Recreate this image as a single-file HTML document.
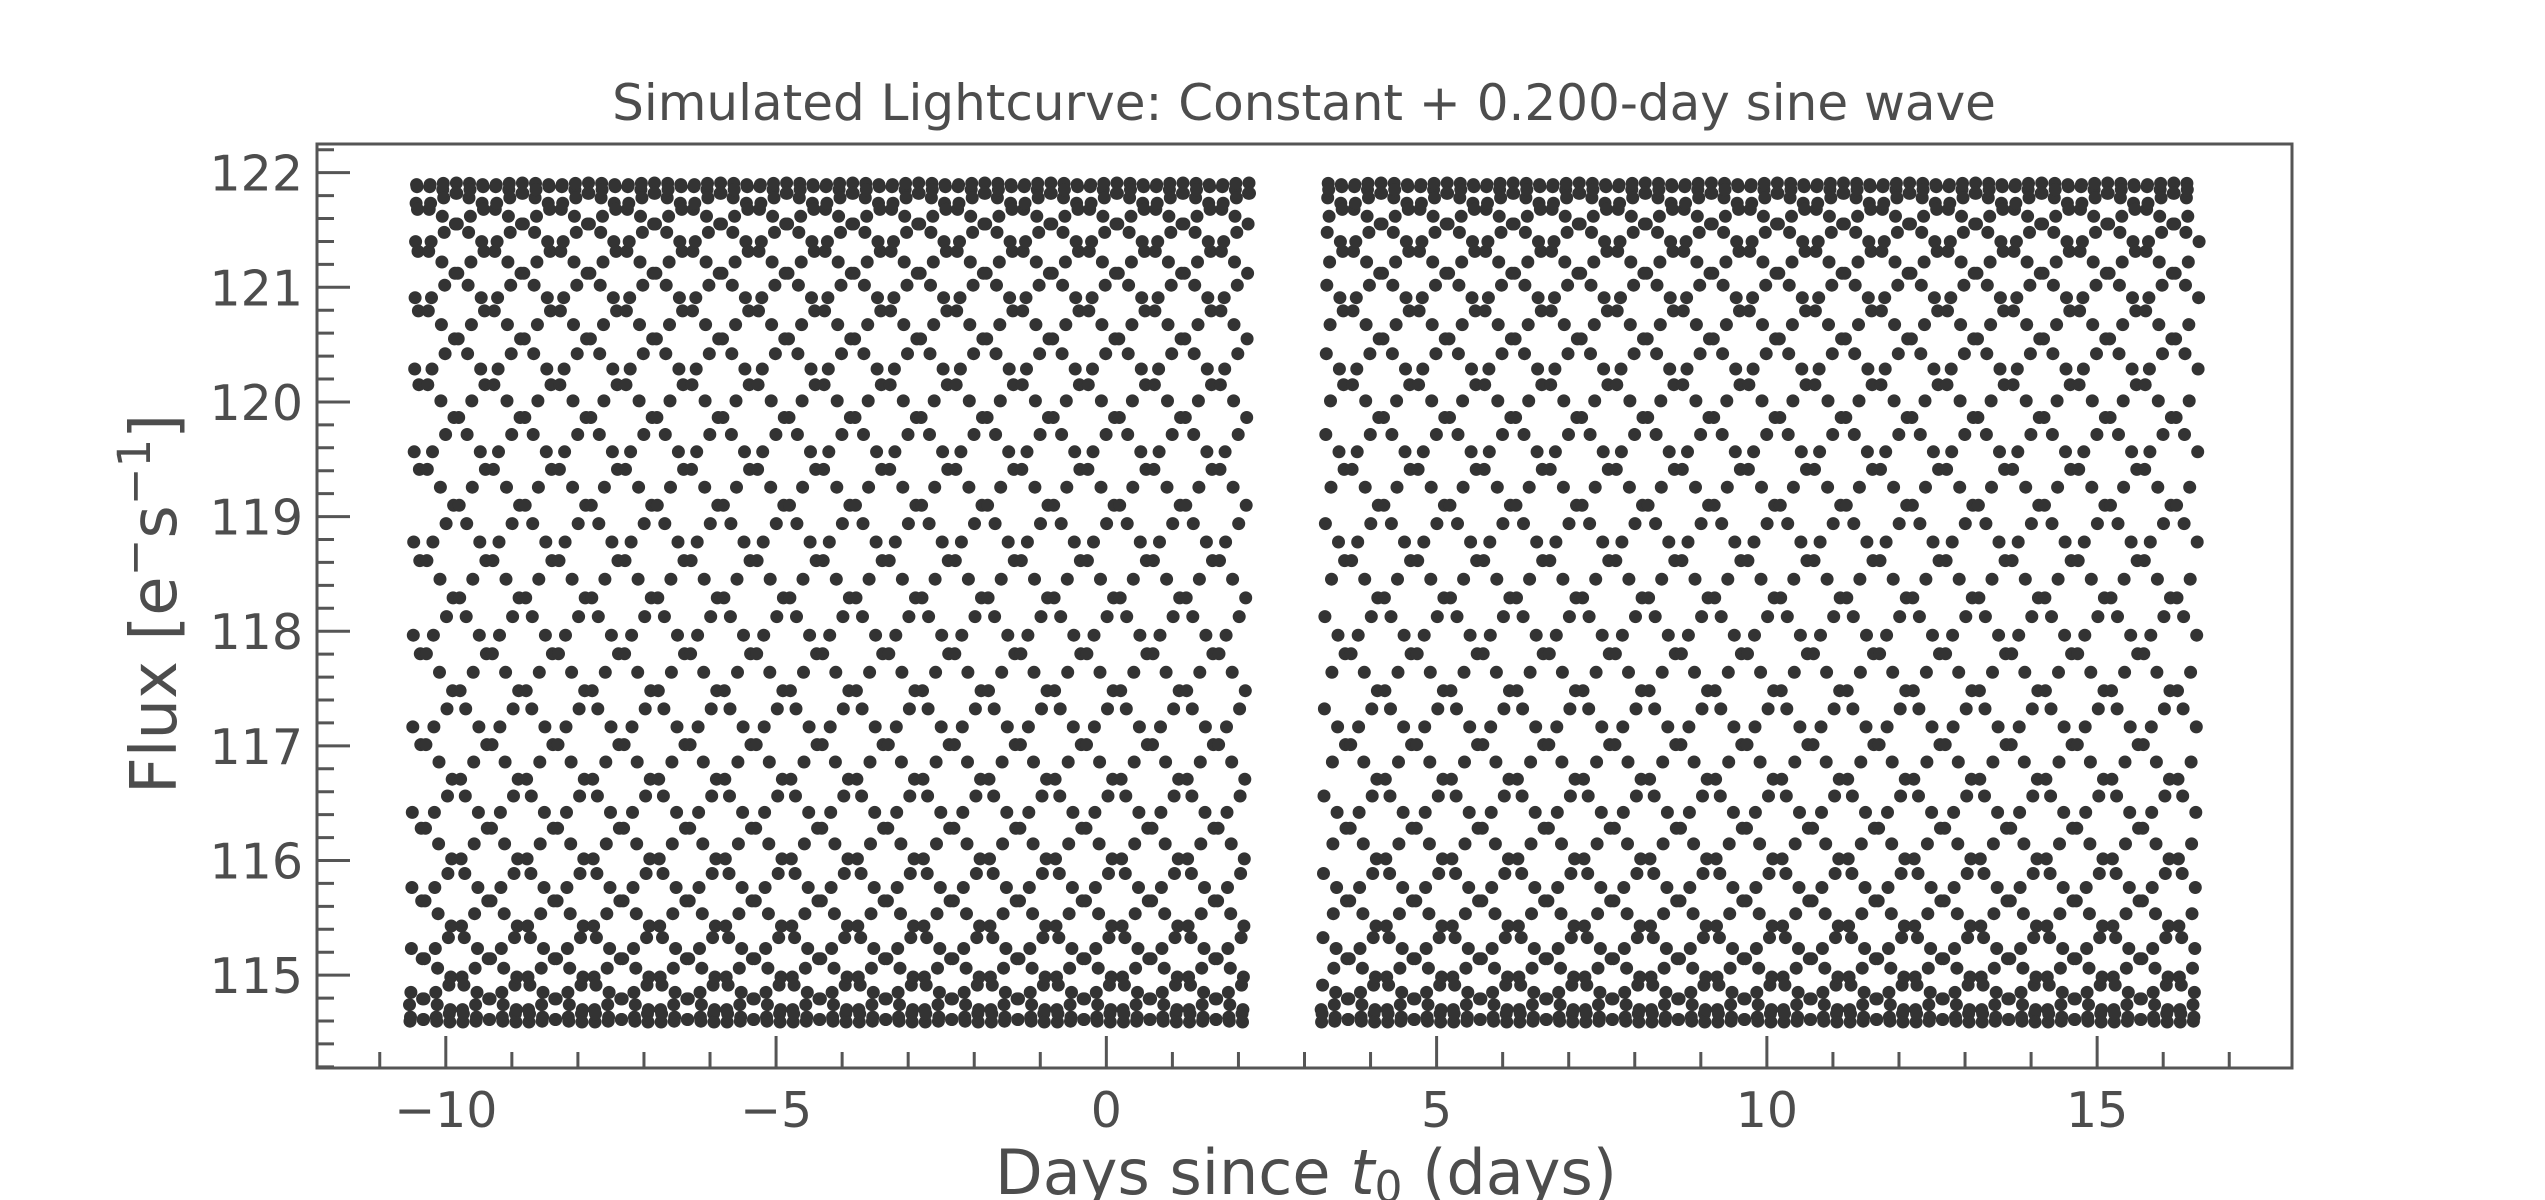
<!DOCTYPE html>
<html>
<head>
<meta charset="utf-8">
<style>
  html, body { margin: 0; padding: 0; background: #ffffff; }
  svg { display: block; }
  text { font-family: "DejaVu Sans", "Liberation Sans", sans-serif; fill: #4d4d4d; }
</style>
</head>
<body>
<svg id="chart" width="2545" height="1200" viewBox="0 0 2545 1200" xmlns="http://www.w3.org/2000/svg">
  <rect x="0" y="0" width="2545" height="1200" fill="#ffffff"/>
  <text x="1304" y="120" font-size="50" text-anchor="middle">Simulated Lightcurve: Constant + 0.200-day sine wave</text>
  <g id="points"></g>
  <g id="axes"></g>
  <text transform="translate(176,604) rotate(-90)" font-size="64" text-anchor="middle">Flux [e<tspan font-size="45" baseline-shift="super">−</tspan>s<tspan font-size="45" baseline-shift="super">−1</tspan>]</text>
  <text x="1306" y="1194" font-size="62" text-anchor="middle">Days since <tspan font-style="italic">t</tspan><tspan font-size="44" dy="8">0</tspan><tspan dy="-8"> (days)</tspan></text>
</svg>
<script>
// ---- chart data ----
const segmentStarts = [-10.55, 3.25];     // days
const segmentEnds   = [2.17, 16.55];      // days
const samplesPerDay = [141];              // ~10-min cadence
const peakEpoch = [6.16];                 // time of a sample near sine maximum (days)
const phaseOffsetDeg = [0.0];             // sample offset from exact maximum
const sinePeriod = [0.200];               // days
const fluxMean = [118.25];
const fluxAmplitude = [3.66];
const xTickValues = [-10, -5, 0, 5, 10, 15];
const xTickLabels = ["−10", "−5", "0", "5", "10", "15"];
const yTickValues = [115, 116, 117, 118, 119, 120, 121, 122];
const yTickLabels = ["115", "116", "117", "118", "119", "120", "121", "122"];

// ---- layout ----
const L = 317, R = 2292, T = 144, B = 1068;
const xMin = -11.95, xMax = 17.95;
const yMin = 114.19, yMax = 122.25;
const NS = "http://www.w3.org/2000/svg";
function xScale(v) { return L + (v - xMin) / (xMax - xMin) * (R - L); }
function yScale(v) { return B - (v - yMin) / (yMax - yMin) * (B - T); }

// ---- points ----
const pg = document.getElementById('points');
for (let s = 0; s < segmentStarts.length; s++) {
  const k0 = Math.ceil((segmentStarts[s] - peakEpoch[0]) * samplesPerDay[0]);
  const k1 = Math.floor((segmentEnds[s] - peakEpoch[0]) * samplesPerDay[0]);
  for (let k = k0; k <= k1; k++) {
    const dtk = k / samplesPerDay[0];
    const t = peakEpoch[0] + dtk;
    const f = fluxMean[0] + fluxAmplitude[0] * Math.cos(2 * Math.PI * dtk / sinePeriod[0] + phaseOffsetDeg[0] * Math.PI / 180);
    const c = document.createElementNS(NS, 'circle');
    
    
    c.setAttribute('cx', xScale(t).toFixed(1));
    c.setAttribute('cy', yScale(f).toFixed(1));
    c.setAttribute('r', '6.5');
    c.setAttribute('fill', '#333333');
    pg.appendChild(c);
  }
}

// ---- axes ----
const ag = document.getElementById('axes');
function line(x1, y1, x2, y2, name) {
  const l = document.createElementNS(NS, 'line');
  
  
  l.setAttribute('x1', x1); l.setAttribute('y1', y1);
  l.setAttribute('x2', x2); l.setAttribute('y2', y2);
  l.setAttribute('stroke', '#555555');
  l.setAttribute('stroke-width', '3');
  ag.appendChild(l);
}
function label(x, y, str, anchor, name) {
  const tx = document.createElementNS(NS, 'text');
  
  
  tx.setAttribute('x', x); tx.setAttribute('y', y);
  tx.setAttribute('font-size', '49');
  tx.setAttribute('text-anchor', anchor);
  tx.textContent = str;
  ag.appendChild(tx);
}
const fr = document.createElementNS(NS, 'rect');


fr.setAttribute('x', L); fr.setAttribute('y', T);
fr.setAttribute('width', R - L); fr.setAttribute('height', B - T);
fr.setAttribute('fill', 'none'); fr.setAttribute('stroke', '#555555'); fr.setAttribute('stroke-width', '3');
ag.appendChild(fr);
for (let v = Math.ceil(xMin); v <= xMax; v++) {
  if (v % 5 === 0) continue;
  line(xScale(v), B, xScale(v), B - 16, 'x-minor-tick');
}
xTickValues.forEach((v, i) => {
  line(xScale(v), B, xScale(v), B - 32, 'x-major-tick');
  label(xScale(v), 1127, xTickLabels[i], 'middle', 'x-tick-label');
});
for (let k = Math.ceil(yMin * 5); k <= Math.floor(yMax * 5); k++) {
  if (k % 5 === 0) continue;
  const v = k / 5;
  line(L, yScale(v), L + 17, yScale(v), 'y-minor-tick');
}
yTickValues.forEach((v, i) => {
  line(L, yScale(v), L + 33, yScale(v), 'y-major-tick');
  label(303, yScale(v) + 18, yTickLabels[i], 'end', 'y-tick-label');
});
</script>
</body>
</html>
